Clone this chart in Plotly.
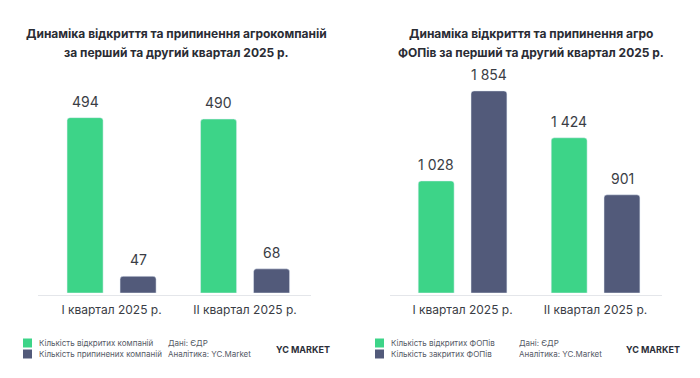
import plotly.graph_objects as go

# ---- data ----
quarters = ["I квартал 2025 р.", "II квартал 2025 р."]
left_open = [494, 490]
left_closed = [47, 68]
right_open = [1028, 1424]
right_closed = [1854, 901]

left_title = ["Динаміка відкриття та припинення агрокомпаній", "за перший та другий квартал 2025 р."]
right_title = ["Динаміка відкриття та припинення агро", "ФОПів за перший та другий квартал 2025 р."]
left_names = ["Кількість відкритих компаній", "Кількість припинених компаній"]
right_names = ["Кількість відкритих ФОПів", "Кількість закритих ФОПів"]
source_lines = ["Дані: ЄДР", "Аналітика: YC.Market"]
logo_text = "YC MARKET"

GREEN = "#3dd488"
DARK = "#525a7a"
TEXT = "#3a3d45"
FONT = "Inter"

W, H = 700, 378
def px(x):
    return x / W
def py(y):
    return 1 - y / H

fig = go.Figure()

BAR_W = 0.27
OFF_G = -0.333
OFF_D = 0.064

def add_pair(open_vals, closed_vals, names, xa, ya):
    fig.add_trace(go.Bar(x=quarters, y=open_vals, name=names[0], marker=dict(color=GREEN, cornerradius=3),
                         width=BAR_W, offset=OFF_G, xaxis=xa, yaxis=ya, showlegend=False))
    fig.add_trace(go.Bar(x=quarters, y=closed_vals, name=names[1], marker=dict(color=DARK, cornerradius=3),
                         width=BAR_W, offset=OFF_D, xaxis=xa, yaxis=ya, showlegend=False))

add_pair(left_open, left_closed, left_names, "x", "y")
add_pair(right_open, right_closed, right_names, "x2", "y2")

annotations = []
def fmt(v):
    return f"{v:,}".replace(",", " ")

def add_labels(open_vals, closed_vals, xr, yr):
    for q, v in zip(quarters, open_vals):
        annotations.append(dict(x=q, y=v, xref=xr, yref=yr, text=fmt(v), showarrow=False,
                                xshift=-26.5, yshift=6, yanchor="bottom",
                                font=dict(family=FONT, size=14, color=TEXT)))
    for q, v in zip(quarters, closed_vals):
        annotations.append(dict(x=q, y=v, xref=xr, yref=yr, text=fmt(v), showarrow=False,
                                xshift=26.5, yshift=6, yanchor="bottom",
                                font=dict(family=FONT, size=14, color=TEXT)))

add_labels(left_open, left_closed, "x", "y")
add_labels(right_open, right_closed, "x2", "y2")

# titles
for cx, lines in [(177, left_title), (531, right_title)]:
    for i, t in enumerate(lines):
        annotations.append(dict(x=px(cx), y=py(33 + 19 * i), xref="paper", yref="paper", text=f"<b>{t}</b>",
                                showarrow=False, xanchor="center", yanchor="middle",
                                font=dict(family=FONT, size=12, color="#2a2c34")))

shapes = []
# baselines (light rules under the bars)
for x0, x1 in [(38, 311), (390, 662)]:
    shapes.append(dict(type="line", xref="paper", yref="paper", x0=px(x0), x1=px(x1),
                       y0=py(295.5), y1=py(295.5), line=dict(color="#e4e6ea", width=1)))
# legends / footer
for sx, names, srcx, logox in [(23, left_names, 166, 302.5), (375, right_names, 517, 653)]:
    for i, (nm, col) in enumerate(zip(names, [GREEN, DARK])):
        cy = 343 + 11 * i
        shapes.append(dict(type="rect", xref="paper", yref="paper", x0=px(sx), x1=px(sx + 9),
                           y0=py(cy - 4.5), y1=py(cy + 4.5), fillcolor=col, line=dict(width=0)))
        annotations.append(dict(x=px(sx + 14), y=py(cy), xref="paper", yref="paper", text=nm, showarrow=False,
                                xanchor="left", yanchor="middle", font=dict(family=FONT, size=8, color="#555a66")))
        annotations.append(dict(x=px(srcx), y=py(cy), xref="paper", yref="paper", text=source_lines[i],
                                showarrow=False, xanchor="left", yanchor="middle",
                                font=dict(family=FONT, size=8, color="#555a66")))
    annotations.append(dict(x=px(logox), y=py(349), xref="paper", yref="paper", text=f"<b>{logo_text}</b>",
                            showarrow=False, xanchor="center", yanchor="middle",
                            font=dict(family=FONT, size=9, color="#2b2e38")))

xcommon = dict(showline=False, showgrid=False, zeroline=False,
               ticks="", ticklabelstandoff=8, tickfont=dict(family=FONT, size=12, color=TEXT),
               range=[-0.5, 1.5], fixedrange=True)
ycommon = dict(visible=False, showgrid=False, zeroline=False, fixedrange=True)

fig.update_layout(
    width=W, height=H,
    margin=dict(l=0, r=0, t=0, b=0),
    paper_bgcolor="white", plot_bgcolor="white",
    barmode="group",
    xaxis=dict(domain=[px(44.75), px(311.75)], anchor="y", **xcommon),
    yaxis=dict(domain=[py(293), py(94.2)], range=[0, 560], anchor="x", **ycommon),
    xaxis2=dict(domain=[px(396), px(662)], anchor="y2", **xcommon),
    yaxis2=dict(domain=[py(293), py(75)], range=[0, 2000], anchor="x2", **ycommon),
    annotations=annotations,
    shapes=shapes,
    font=dict(family=FONT),
)

fig.write_html("out.html", config={"displayModeBar": False},
               post_script="document.body.style.margin='0';document.body.style.overflow='hidden';")
